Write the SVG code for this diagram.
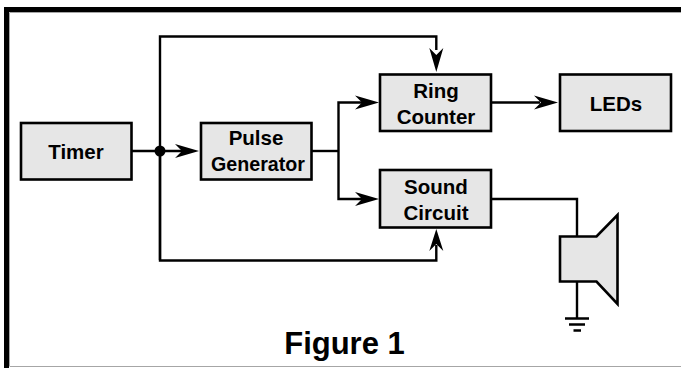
<svg xmlns="http://www.w3.org/2000/svg" width="681" height="368" viewBox="0 0 681 368">
<defs>
<style>
.box{fill:#e6e6e6;stroke:#000;stroke-width:2.6}
.wire{fill:none;stroke:#000;stroke-width:2.4}
.head{fill:#000;stroke:none}
text{font-family:"Liberation Sans",Arial,sans-serif;font-weight:bold;fill:#000;text-anchor:middle}
.lbl{font-size:20.5px}
</style>
<polygon id="ah" class="head" points="0,0 -24,-7 -17,0 -24,7"/>
<polygon id="ah2" class="head" points="0,0 -22,-7 -15,0 -22,7"/>
</defs>
<rect width="681" height="368" fill="#fff"/>
<g id="frame">
<path d="M9.500 366.500H681M9.500 366V12.500H681" fill="none" stroke="#a6a6a6" stroke-width="1"/>
<path d="M6.500 368V9.500H681" fill="none" stroke="#000" stroke-width="5"/>
</g>
<g id="connectors">
<path class="wire" d="M132 151H190"/>
<path class="wire" d="M160 260V36.500H436.300V50"/>
<path class="wire" d="M160 151V260.500H436.300V245"/>
<path class="wire" d="M312 151H338.500"/>
<path class="wire" d="M362 102.500H338.500V199H362"/>
<path class="wire" d="M492 102.500H540"/>
<path class="wire" d="M492 199H577V236"/>
<path class="wire" d="M577 282V318"/>
<circle cx="160" cy="151" r="5.500" fill="#000"/>
<use href="#ah" x="199" y="151"/>
<use href="#ah" x="379" y="102.500"/>
<use href="#ah" x="558" y="102.500"/>
<use href="#ah" x="379" y="199"/>
<use href="#ah" transform="translate(436.300 72) rotate(90)"/>
<use href="#ah2" transform="translate(436.300 229) rotate(-90)"/>
</g>
<g id="timer"><rect class="box" x="21" y="123" width="110.500" height="56.500"/><text class="lbl" x="76" y="159">Timer</text></g>
<g id="pulse-generator"><rect class="box" x="201" y="123" width="110.500" height="56.500"/><text class="lbl" x="256" y="145">Pulse</text><text class="lbl" x="258" y="171" textLength="94" lengthAdjust="spacingAndGlyphs">Generator</text></g>
<g id="ring-counter"><rect class="box" x="380" y="74.500" width="111" height="56.500"/><text class="lbl" x="436" y="98">Ring</text><text class="lbl" x="436" y="124">Counter</text></g>
<g id="leds"><rect class="box" x="560" y="74.500" width="111" height="56.500"/><text class="lbl" x="616" y="111">LEDs</text></g>
<g id="sound-circuit"><rect class="box" x="380" y="170" width="111" height="57.500"/><text class="lbl" x="436" y="194">Sound</text><text class="lbl" x="436" y="220">Circuit</text></g>
<g id="speaker"><path d="M560 236.500H596.500L617.500 215V304L596.500 281.500H560Z" fill="#e6e6e6" stroke="#000" stroke-width="2.600"/></g>
<g id="ground"><path d="M565 318.500H589M569 324.500H585M573.500 330.500H581" fill="none" stroke="#000" stroke-width="2.400"/></g>
<g id="caption"><text x="344.500" y="354" font-size="31px">Figure 1</text></g>
</svg>
